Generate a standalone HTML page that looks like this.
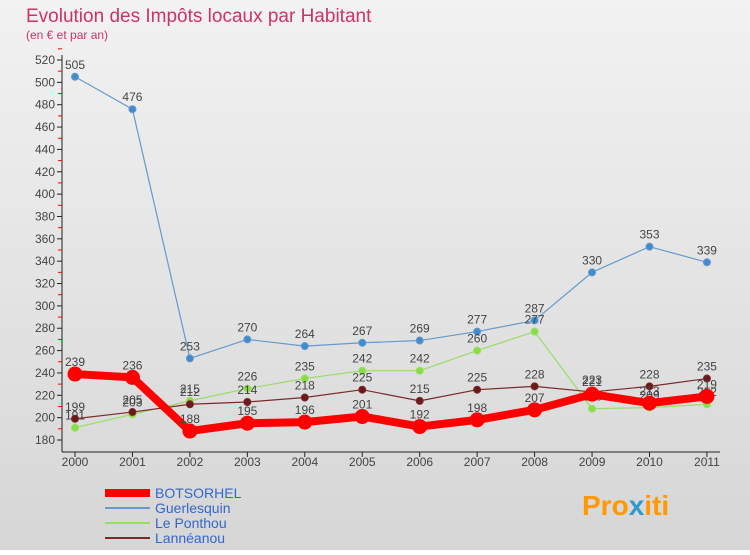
<!DOCTYPE html>
<html><head><meta charset="utf-8"><style>
body{margin:0;width:750px;height:550px;overflow:hidden;font-family:"Liberation Sans",sans-serif}
</style></head><body>
<svg width="750" height="550" xmlns="http://www.w3.org/2000/svg">
<defs><linearGradient id="bg" x1="0" y1="0" x2="0" y2="1"><stop offset="0" stop-color="#f2f2f2"/><stop offset="1" stop-color="#d6d6d6"/></linearGradient></defs>
<rect width="750" height="550" fill="url(#bg)"/>
<text x="26" y="22" font-size="19" fill="#cc3366">Evolution des Impôts locaux par Habitant</text>
<text x="26" y="39" font-size="12" fill="#cc3366">(en € et par an)</text>
<g id="axes"></g><g id="series"></g>
<g font-size="14">
<line x1="105" y1="493" x2="150" y2="493" stroke="#ff0000" stroke-width="8"/><text x="155" y="498" fill="#3366cc">BOTSORHEL</text>
<line x1="105" y1="508" x2="150" y2="508" stroke="#6699cc" stroke-width="2"/><text x="155" y="513" fill="#3366cc">Guerlesquin</text>
<line x1="105" y1="523" x2="150" y2="523" stroke="#99dd66" stroke-width="2"/><text x="155" y="528" fill="#3366cc">Le Ponthou</text>
<line x1="105" y1="538" x2="150" y2="538" stroke="#7a2a2a" stroke-width="2"/><text x="155" y="543" fill="#3366cc">Lannéanou</text>
</g>
<text x="582" y="515" font-size="28" font-weight="bold" fill="#ff9900">Pro<tspan fill="#3399cc">x</tspan>iti</text>
</svg>
<script>
const years=["2000","2001","2002","2003","2004","2005","2006","2007","2008","2009","2010","2011"];
const yTicks=[180,200,220,240,260,280,300,320,340,360,380,400,420,440,460,480,500,520];
const botsorhel=[239,236,188,195,196,201,192,198,207,221,213,219];
const guerlesquin=[505,476,253,270,264,267,269,277,287,330,353,339];
const lePonthou=[191,203,215,226,235,242,242,260,277,208,209,212];
const lanneanou=[199,205,212,214,218,225,215,225,228,223,228,235];
const NS="http://www.w3.org/2000/svg";
const xs=i=>75+i*57.45, ys=v=>440-(v-180)*1.1176;
function mk(t,a,p){const e=document.createElementNS(NS,t);for(const k in a)e.setAttribute(k,a[k]);p.appendChild(e);return e;}
const ax=document.getElementById('axes');
let l=mk('line',{x1:62,y1:55,x2:62,y2:452,stroke:'#222'},ax);


l=mk('line',{x1:62,y1:452,x2:720,y2:452,stroke:'#222'},ax);


yTicks.forEach(v=>{const y=ys(v);mk('line',{x1:57,y1:y,x2:62,y2:y,stroke:'#222'},ax);
mk('line',{x1:58,y1:y-11.18,x2:62,y2:y-11.18,stroke:'#f00'},ax);
const t=mk('text',{x:55,y:y+4,'font-size':12,fill:'#444','text-anchor':'end'},ax);t.textContent=v;

});
years.forEach((yr,i)=>{const x=xs(i);mk('line',{x1:x,y1:452,x2:x,y2:457,stroke:'#222'},ax);
const t=mk('text',{x:x,y:466,'font-size':12,fill:'#444','text-anchor':'middle'},ax);t.textContent=yr;

});
const sg=document.getElementById('series');
function draw(data,name,color,w,r,dot){
const g=mk('g',{},sg);


mk('polyline',{points:data.map((v,i)=>xs(i)+','+ys(v)).join(' '),fill:'none',stroke:color,'stroke-width':w,'stroke-linejoin':'round'},g);
data.forEach((v,i)=>{const c=mk('circle',{cx:xs(i),cy:ys(v),r:r,fill:dot,stroke:color},g);


const t=mk('text',{x:xs(i),y:ys(v)-8,'font-size':12,fill:'#444','text-anchor':'middle'},g);t.textContent=v;

});}
draw(guerlesquin,'guerlesquin-series','#6699cc',1.2,3.5,'#3d8cd0');
draw(lePonthou,'le-ponthou-series','#99dd66',1.2,3.5,'#88dd44');
draw(lanneanou,'lanneanou-series','#7a2a2a',1.2,3.5,'#6a1a1a');
draw(botsorhel,'botsorhel-series','#ff0000',8,7,'#ff0000');
</script>
</body></html>
